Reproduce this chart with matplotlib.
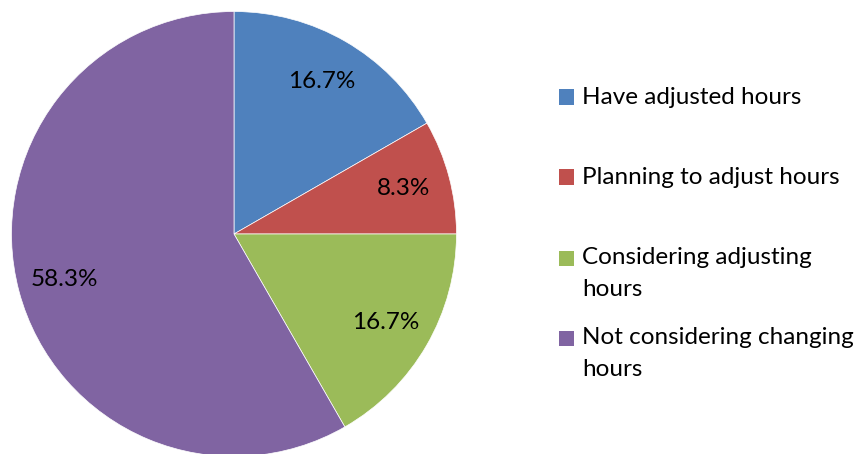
import matplotlib
matplotlib.use("Agg")
import matplotlib.pyplot as plt
from matplotlib.patches import Rectangle

categories = ["Have adjusted hours", "Planning to adjust hours",
              "Considering adjusting\nhours", "Not considering changing\nhours"]
shares = [16.7, 8.3, 16.7, 58.3]
colors = ["#4F81BD", "#C0504D", "#9BBB59", "#8064A2"]

plt.rcParams["font.family"] = ["Lato", "DejaVu Sans"]
FS = 17.5

W, H = 858, 454
fig = plt.figure(figsize=(W / 100, H / 100), dpi=100)

# pie axes: centre (234, 234) px, radius ~222 px
R = 222.5
cx, cy = 234, 234
ax = fig.add_axes([(cx - R) / W, (H - cy - R) / H, 2 * R / W, 2 * R / H])
wedges, texts, autotexts = ax.pie(
    shares, colors=colors, startangle=90, counterclock=False,
    autopct="%.1f%%", pctdistance=0.79,
    wedgeprops=dict(linewidth=0.5, edgecolor="white"),
    textprops=dict(fontsize=FS, color="black"),
)
ax.set_xlim(-1, 1)
ax.set_ylim(-1, 1)
ax.set_aspect("equal")
ax.axis("off")

# legend drawn by hand: square marker aligned with the first text line
row_tops = [97, 177, 258, 338]
line_gap = 32
for name, col, y in zip(categories, colors, row_tops):
    fig.patches.append(Rectangle((559 / W, (H - y - 7.5) / H), 15 / W, 15 / H,
                                 transform=fig.transFigure, facecolor=col,
                                 edgecolor="none"))
    for k, line in enumerate(name.split("\n")):
        fig.text(582 / W, (H - y - k * line_gap) / H, line, fontsize=FS,
                 va="center", ha="left", color="black")

fig.savefig("out.png", dpi=100, facecolor="white")
